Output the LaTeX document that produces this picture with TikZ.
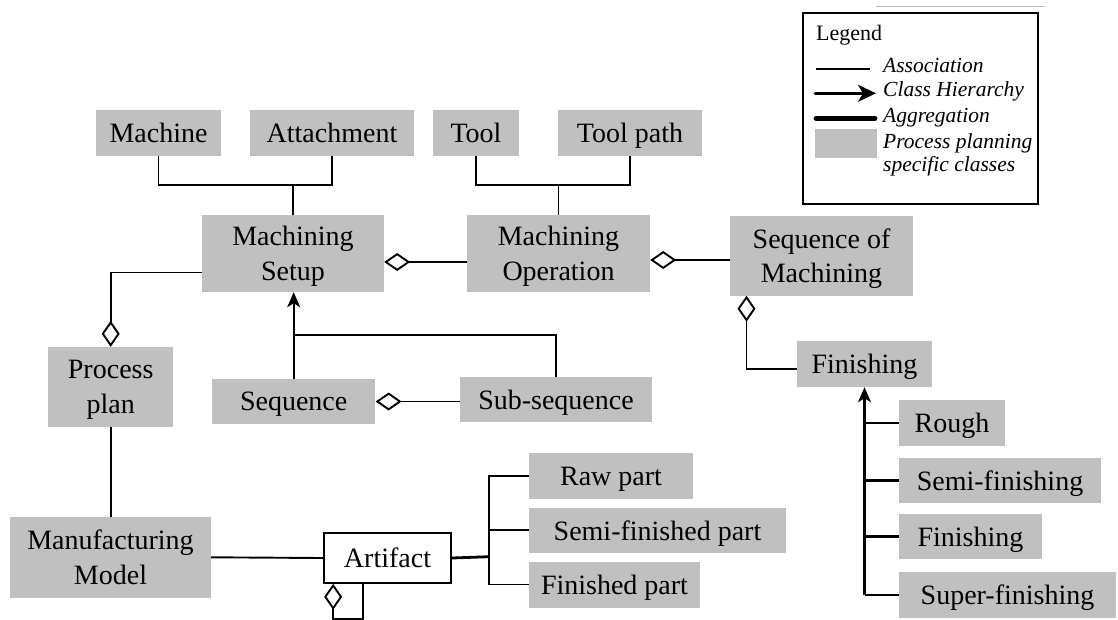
\documentclass[tikz,border=0pt]{standalone}
\usepackage{fontspec}
\setmainfont{Liberation Serif}
\usetikzlibrary{arrows.meta}
\definecolor{boxgray}{RGB}{192,192,192}
\begin{document}
\begin{tikzpicture}[x=1pt,y=-1pt,
  cls/.style={fill=boxgray, draw=none, inner sep=0pt, align=center, text depth=0pt,
    font=\fontsize{28}{34.5}\selectfont},
  whitecls/.style={fill=white, draw=black, line width=1.7pt, inner sep=0pt, align=center, text depth=0pt,
    font=\fontsize{28}{34.5}\selectfont},
  assoc/.style={line width=1.9pt},
  aggr/.style={line width=1.9pt, {Diamond[open,length=26pt,width=18pt]}-},
  hier/.style={line width=2.2pt, -{Stealth[length=15pt,width=13pt,inset=4pt]}},
  legtext/.style={anchor=west, inner sep=0pt, font=\fontsize{21.5}{23}\selectfont\itshape, align=left}
]
\useasboundingbox (0,0) rectangle (1118,619);

% classes
\node[cls, minimum width=125pt, minimum height=46pt] (machine) at (158.5,133) {Machine};
\node[cls, minimum width=164pt, minimum height=46pt] (attach) at (332,133) {Attachment};
\node[cls, minimum width=86pt, minimum height=46pt] (tool) at (476,133) {Tool};
\node[cls, minimum width=144pt, minimum height=46pt] (toolpath) at (630,133) {Tool path};
\node[cls, minimum width=182pt, minimum height=77pt] (msetup) at (293,253.5) {Machining\\Setup};
\node[cls, minimum width=183pt, minimum height=77pt] (mop) at (558.5,253.5) {Machining\\Operation};
\node[cls, minimum width=183pt, minimum height=80pt] (som) at (821.5,255.5) {Sequence of\\Machining};
\node[cls, minimum width=125.5pt, minimum height=80pt] (pplan) at (110.7,387) {Process\\plan};
\node[cls, minimum width=163.5pt, minimum height=45pt] (seq) at (293.7,401.5) {Sequence};
\node[cls, minimum width=192pt, minimum height=45pt] (subseq) at (556,399.5) {Sub-sequence};
\node[cls, minimum width=135pt, minimum height=46pt] (finish) at (864.5,364) {Finishing};
\node[cls, minimum width=106pt, minimum height=46pt] (rough) at (952,423) {Rough};
\node[cls, minimum width=202pt, minimum height=45pt] (semif) at (1000,480.5) {Semi-finishing};
\node[cls, minimum width=143pt, minimum height=45pt] (finish2) at (970.5,536.5) {Finishing};
\node[cls, minimum width=217pt, minimum height=46pt] (superf) at (1007.5,595) {Super-finishing};
\node[cls, minimum width=201pt, minimum height=81pt] (mmodel) at (110.5,557.3) {Manufacturing\\Model};
\node[whitecls, minimum width=127pt, minimum height=50pt] (artifact) at (387.5,558) {Artifact};
\node[cls, minimum width=164pt, minimum height=46pt] (raw) at (611,476) {Raw part};
\node[cls, minimum width=257pt, minimum height=45pt] (semipart) at (657.5,530.3) {Semi-finished part};
\node[cls, minimum width=171pt, minimum height=46pt] (finpart) at (614.5,584.5) {Finished part};

% junction coordinates
\coordinate (j1) at (294,185);
\coordinate (j2) at (558,185);
\coordinate (j3) at (294,335);
\coordinate (j4) at (488.7,556.7);

% machine / attachment -> setup
\draw[assoc] (machine.south) |- (attach.south |- j1) -- (attach.south);
\draw[assoc] (msetup.north) -- (msetup.north |- j1);
% tool / tool path -> operation
\draw[assoc] (tool.south) |- (toolpath.south |- j2) -- (toolpath.south);
\draw[assoc] (mop.north) -- (mop.north |- j2);

% aggregations
\draw[aggr] ([yshift=-8.5pt]msetup.east) -- ([yshift=-8.5pt]mop.west);
\draw[aggr] ([yshift=-6.5pt]mop.east) -- ([yshift=-4.5pt]som.west);
\draw[aggr] (pplan.north) |- ([yshift=-19pt]msetup.west);
\draw[aggr] (seq.east) -- (subseq.west |- seq.east);
\draw[aggr] ([xshift=16.7pt]som.south west) |- ([yshift=-5.3pt]finish.west);

% associations
\draw[assoc] (pplan.south) -- (mmodel.north -| pplan.south);
\draw[assoc] (mmodel.east) -- (artifact.west);

% class hierarchy: sequence
\draw[hier] (seq.north) -- (msetup.south -| seq.north);
\draw[line width=2.2pt] (subseq.north) |- (j3);

% class hierarchy: finishing
\draw[hier] (superf.west -| finish.south) -- (finish.south);
\draw[line width=2.2pt] (rough.west) -- (rough.west -| finish.south);
\draw[line width=2.2pt] (semif.west) -- (semif.west -| finish.south);
\draw[line width=2.2pt] (finish2.west) -- (finish2.west -| finish.south);
\draw[line width=2.2pt] (superf.west) -- (superf.west -| finish.south);

% artifact children
\draw[line width=2.8pt] (artifact.east) -- (j4);
\draw[assoc] (raw.west) -| (j4) |- (finpart.west);
\draw[assoc] (semipart.west) -- (semipart.west -| j4);

% artifact self aggregation
\draw[aggr] ([xshift=10pt]artifact.south west) -- ++(0,35.5) -- ++(30,0) -- ([xshift=40pt]artifact.south west);

% stray line at top
\draw[gray!55, line width=1pt] (876,6) -- (1045,6);

% legend
\node[draw=black, line width=1.7pt, minimum width=234.4pt, minimum height=190.7pt, inner sep=0pt] (legend) at (920.5,108.65) {};
\node[anchor=west, inner sep=0pt, font=\fontsize{22}{24}\selectfont] (legtitle) at (816,35) {Legend};
\coordinate (la1) at (816,69.3);
\coordinate (la2) at (870,69.3);
\draw[line width=1.9pt] (la1) -- (la2);
\node[legtext] (lassoc) at (883,65) {Association};
\coordinate (lh1) at (815,93.3);
\coordinate (lh2) at (876,93.3);
\draw[line width=3pt, line cap=round, -{Stealth[length=18pt,width=17pt,inset=5pt]}] (lh1) -- (lh2);
\node[legtext] (lhier) at (883,91) {Class Hierarchy};
\coordinate (lg1) at (816,118.3);
\coordinate (lg2) at (875,118.3);
\draw[line width=4.8pt, line cap=round] (lg1) -- (lg2);
\node[legtext] (laggr) at (883,118) {Aggregation};
\node[fill=boxgray, inner sep=0pt, minimum width=61.7pt, minimum height=29pt] (lbox) at (845.85,143.8) {};
\node[legtext, anchor=north west] (lcls) at (883,133) {Process planning\\specific classes};
\end{tikzpicture}
\end{document}
